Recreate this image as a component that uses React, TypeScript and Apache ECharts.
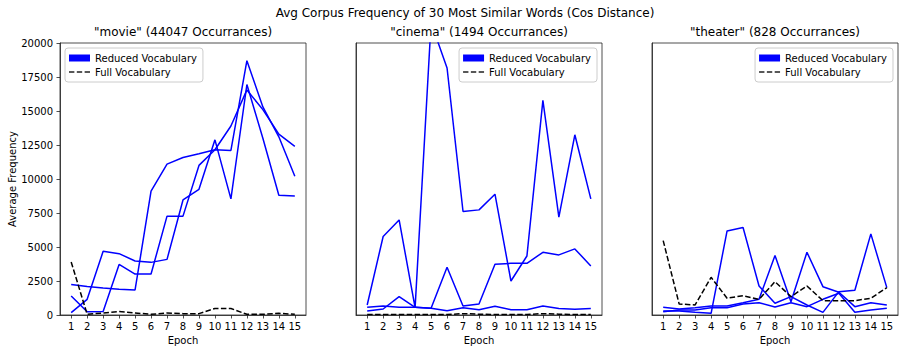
import React, { useEffect, useRef } from "react";
import * as echarts from "echarts";

const epochs = [1, 2, 3, 4, 5, 6, 7, 8, 9, 10, 11, 12, 13, 14, 15];
const yTicks = [0, 2500, 5000, 7500, 10000, 12500, 15000, 17500, 20000];

const mainTitle = "Avg Corpus Frequency of 30 Most Similar Words (Cos Distance)";
const panelTitles = [
  '"movie" (44047 Occurrances)',
  '"cinema" (1494 Occurrances)',
  '"theater" (828 Occurrances)',
];

const movieReducedA = [2250, 2090, 1980, 1890, 1840, 9110, 11090, 11580, 11850, 12150, 13900, 16550, 15100, 13300, 12400];
const movieReducedB = [1400, 240, 250, 3720, 3010, 3010, 7270, 7270, 11000, 12150, 12100, 18700, 15300, 13100, 10200];
const movieReducedC = [170, 1150, 4680, 4510, 3970, 3870, 4090, 8460, 9240, 12880, 8540, 16950, 13000, 8800, 8750];
const movieFull = [3900, 50, 150, 250, 150, 50, 150, 100, 100, 480, 480, 50, 50, 120, 50];

const cinemaReducedA = [736, 5770, 6990, 540, 21500, 18160, 7610, 7730, 8880, 2500, 4340, 15780, 7190, 13250, 8540];
const cinemaReducedB = [294, 442, 1350, 564, 490, 3510, 660, 810, 3730, 3800, 3800, 4610, 4420, 4860, 3610];
const cinemaReducedC = [564, 660, 564, 564, 490, 320, 540, 390, 640, 390, 390, 660, 470, 420, 470];
const cinemaFull = [40, 40, 40, 30, 30, 30, 100, 60, 30, 30, 40, 100, 60, 40, 40];

const theaterReducedA = [294, 294, 196, 123, 6184, 6430, 2135, 860, 1350, 736, 196, 1718, 1816, 5963, 2012];
const theaterReducedB = [563, 442, 540, 663, 663, 900, 1153, 4368, 982, 4614, 2083, 1669, 614, 908, 736];
const theaterReducedC = [245, 368, 368, 540, 540, 810, 908, 589, 908, 614, 1153, 1595, 196, 368, 490];
const theaterFull = [5470, 810, 740, 2770, 1230, 1420, 1150, 2450, 1350, 2135, 1055, 1055, 1055, 1230, 2010];

const panels = [
  { reduced: [movieReducedA, movieReducedB, movieReducedC], full: movieFull },
  { reduced: [cinemaReducedA, cinemaReducedB, cinemaReducedC], full: cinemaFull },
  { reduced: [theaterReducedA, theaterReducedB, theaterReducedC], full: theaterFull },
];

const REDUCED = "Reduced Vocabulary";
const FULL = "Full Vocabulary";
const FONT = "DejaVu Sans";
const BLUE = "#0000ff";
const AXIS = "#222222";
const DASH_ICON = "path://M0,0h5.5v1.6h-5.5z M8,0h5.5v1.6h-5.5z M16,0h5.5v1.6h-5.5z";

const gridLefts = [60, 356, 652];
const gridWidth = 246;
const gridTop = 43;
const gridHeight = 272;

export default function App() {
  const ref = useRef<HTMLDivElement>(null);

  useEffect(() => {
    if (!ref.current) return;
    const chart = echarts.init(ref.current, undefined, { renderer: "svg" });

    const pairs = (vals: number[]) => epochs.map((e, i) => [e, vals[i]]);

    const series: any[] = [];
    panels.forEach((p, gi) => {
      p.reduced.forEach((vals) => {
        series.push({
          type: "line",
          name: REDUCED,
          xAxisIndex: gi,
          yAxisIndex: gi,
          data: pairs(vals),
          symbol: "none",
          showSymbol: false,
          clip: true,
          color: BLUE,
          lineStyle: { color: BLUE, width: 1.5 },
          itemStyle: { color: BLUE },
          z: 2,
        });
      });
      series.push({
        type: "line",
        name: FULL,
        xAxisIndex: gi,
        yAxisIndex: gi,
        data: pairs(p.full),
        symbol: "none",
        showSymbol: false,
        clip: true,
        color: "#000",
        lineStyle: { color: "#000", width: 1.5, type: [5.5, 2.4] },
        itemStyle: { color: "#000" },
        z: 3,
      });
    });

    const legendBase = {
      orient: "vertical",
      top: 48,
      itemWidth: 21,
      itemHeight: 7,
      itemGap: 0,
      padding: [3, 6, 3, 4],
      borderColor: "#cccccc",
      borderWidth: 1,
      borderRadius: 3,
      backgroundColor: "rgba(255,255,255,0.8)",
      selectedMode: false,
      symbolKeepAspect: true,
      textStyle: { fontFamily: FONT, fontSize: 10, color: "#000", lineHeight: 14 },
      data: [
        { name: REDUCED, icon: "rect", itemStyle: { color: BLUE, borderWidth: 0 } },
        {
          name: FULL,
          icon: DASH_ICON,
          itemStyle: { color: "#222", borderWidth: 0 },
          lineStyle: { width: 0 },
        },
      ],
    };

    const option: any = {
      animation: false,
      backgroundColor: "#ffffff",
      textStyle: { fontFamily: FONT },
      grid: gridLefts.map((l) => ({
        left: l,
        top: gridTop,
        width: gridWidth,
        height: gridHeight,
        show: true,
        borderColor: AXIS,
        borderWidth: 0.8,
        backgroundColor: "transparent",
        containLabel: false,
      })),
      legend: [
        { ...legendBase, left: 65 },
        { ...legendBase, right: 310 },
        { ...legendBase, right: 14 },
      ],
      xAxis: gridLefts.map((_, gi) => ({
        type: "value",
        gridIndex: gi,
        min: 0.3,
        max: 15.7,
        axisLine: { show: true, onZero: false, lineStyle: { color: AXIS, width: 0.8 } },
        axisTick: { show: true, length: 3.5, customValues: epochs, lineStyle: { color: AXIS, width: 0.8 } },
        axisLabel: { customValues: epochs, margin: 6, fontFamily: FONT, fontSize: 10, color: "#000" },
        splitLine: { show: false },
        name: "Epoch",
        nameLocation: "middle",
        nameGap: 20,
        nameTextStyle: { fontFamily: FONT, fontSize: 10, color: "#000" },
      })),
      yAxis: gridLefts.map((_, gi) => ({
        type: "value",
        gridIndex: gi,
        min: 0,
        max: 20000,
        interval: 2500,
        axisLine: { show: true, onZero: false, lineStyle: { color: AXIS, width: 0.8 } },
        axisTick: {
          show: gi === 0,
          length: 3.5,
          customValues: yTicks,
          lineStyle: { color: AXIS, width: 0.8 },
        },
        axisLabel: {
          show: gi === 0,
          customValues: yTicks,
          margin: 7,
          fontFamily: FONT,
          fontSize: 10,
          color: "#000",
          formatter: (v: number) => String(v),
        },
        splitLine: { show: false },
        name: gi === 0 ? "Average Frequency" : "",
        nameLocation: "middle",
        nameGap: 43,
        nameRotate: 90,
        nameTextStyle: { fontFamily: FONT, fontSize: 10, color: "#000" },
      })),
      graphic: [
        {
          type: "text",
          x: 465,
          y: 13,
          style: {
            text: mainTitle,
            fontFamily: FONT,
            fontSize: 12,
            fill: "#000",
            align: "center",
            verticalAlign: "middle",
          },
        },
        ...panelTitles.map((t, i) => ({
          type: "text",
          x: gridLefts[i] + gridWidth / 2,
          y: 32,
          style: {
            text: t,
            fontFamily: FONT,
            fontSize: 12,
            fill: "#000",
            align: "center",
            verticalAlign: "middle",
          },
        })),
      ],
      series,
    };

    chart.setOption(option);
    return () => chart.dispose();
  }, []);

  return <div ref={ref} style={{ width: 907, height: 353, position: "absolute", left: 0, top: 0 }} />;
}
